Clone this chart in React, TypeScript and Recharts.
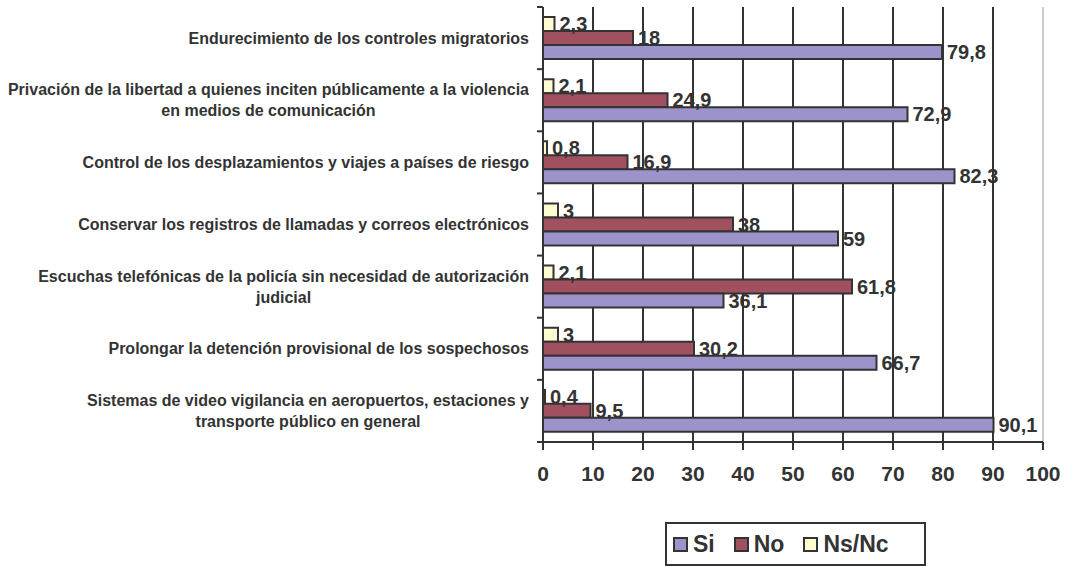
import { BarChart, Bar, XAxis, YAxis, CartesianGrid, ReferenceLine, LabelList } from 'recharts';

const categories = [
  'Endurecimiento de los controles migratorios',
  'Privación de la libertad a quienes inciten públicamente a la violencia\nen medios de comunicación',
  'Control de los desplazamientos y viajes a países de riesgo',
  'Conservar los registros de llamadas y correos electrónicos',
  'Escuchas telefónicas de la policía sin necesidad de autorización\njudicial',
  'Prolongar la detención provisional de los sospechosos',
  'Sistemas de video vigilancia en aeropuertos, estaciones y\ntransporte público en general',
];
const si = [79.8, 72.9, 82.3, 59, 36.1, 66.7, 90.1];
const no = [18, 24.9, 16.9, 38, 61.8, 30.2, 9.5];
const nsnc = [2.3, 2.1, 0.8, 3, 2.1, 3, 0.4];
const xTicks = [0, 10, 20, 30, 40, 50, 60, 70, 80, 90, 100];

const series = [
  { key: 'nsnc', name: 'Ns/Nc', color: '#FFFBD0' },
  { key: 'no', name: 'No', color: '#A0505F' },
  { key: 'si', name: 'Si', color: '#9B93C9' },
];
const legendOrder = ['si', 'no', 'nsnc'];

const data = categories.map((c, i) => ({ cat: c, si: si[i], no: no[i], nsnc: nsnc[i] }));

const W = 1065;
const H = 566;
const TOP = 7;
const BOTTOM = 442;
const LEFT = 543;
const RIGHT = 1043;
const BAND = (BOTTOM - TOP) / categories.length;
const FONT = '"Liberation Sans", Arial, sans-serif';
const INK = '#333333';

function CategoryTick(props: any) {
  const { y, payload, index } = props;
  const lines = String(payload.value).split('\n');
  const blockH = 70;
  return (
    <g>
      <line x1={LEFT - 6} x2={LEFT} y1={y - BAND / 2} y2={y - BAND / 2} stroke={INK} strokeWidth={2} />
      {index === categories.length - 1 && (
        <line x1={LEFT - 6} x2={LEFT} y1={y + BAND / 2} y2={y + BAND / 2} stroke={INK} strokeWidth={2} />
      )}
      <foreignObject x={0} y={y - blockH / 2} width={529} height={blockH}>
        <div
          style={{
            height: blockH,
            display: 'flex',
            justifyContent: 'flex-end',
            alignItems: 'center',
          }}
        >
          <div
            style={{
              textAlign: 'center',
              fontFamily: FONT,
              fontWeight: 'bold',
              fontSize: 16,
              lineHeight: '21px',
              color: INK,
              whiteSpace: 'nowrap',
            }}
          >
            {lines.map((l, i) => (
              <div key={i}>{l}</div>
            ))}
          </div>
        </div>
      </foreignObject>
    </g>
  );
}

const fmt = (v: any) => String(v).replace('.', ',');

export default function App() {
  return (
    <div style={{ position: 'absolute', left: 0, top: 0, width: W, height: H, background: '#fff' }}>
      <BarChart
        width={W}
        height={H}
        data={data}
        layout="vertical"
        margin={{ top: TOP, right: W - RIGHT, left: 0, bottom: H - BOTTOM - 60 }}
        barGap={0}
        barSize={14}
      >
        <CartesianGrid horizontal={false} stroke={INK} strokeWidth={2} />
        <ReferenceLine x={100} stroke="#cccccc" strokeWidth={2} />
        <XAxis
          type="number"
          domain={[0, 100]}
          ticks={xTicks}
          interval={0}
          height={60}
          axisLine={{ stroke: INK, strokeWidth: 2 }}
          tickLine={{ stroke: INK, strokeWidth: 2 }}
          tickSize={8}
          tickMargin={16}
          tick={{ fontSize: 21, fontWeight: 'bold', fill: INK, fontFamily: FONT }}
        />
        <YAxis
          type="category"
          dataKey="cat"
          width={LEFT}
          interval={0}
          axisLine={{ stroke: INK, strokeWidth: 2 }}
          tickLine={false}
          tick={<CategoryTick />}
        />
        {series.map((s) => (
          <Bar
            key={s.key}
            dataKey={s.key}
            name={s.name}
            fill={s.color}
            stroke={INK}
            strokeWidth={2}
            isAnimationActive={false}
          >
            <LabelList
              dataKey={s.key}
              position="right"
              offset={5}
              formatter={fmt}
              style={{ fontSize: 20, fontWeight: 'bold', fill: INK, fontFamily: FONT }}
            />
          </Bar>
        ))}
      </BarChart>
      <div
        style={{
          position: 'absolute',
          left: 665,
          top: 522,
          width: 251,
          height: 40,
          border: `2px solid ${INK}`,
          background: '#fff',
          display: 'flex',
          alignItems: 'center',
          paddingLeft: 6,
          boxSizing: 'content-box',
          fontFamily: FONT,
          fontWeight: 'bold',
          fontSize: 23,
          color: INK,
        }}
      >
        {legendOrder.map((k) => {
          const s = series.find((x) => x.key === k)!;
          return (
            <div key={k} style={{ display: 'flex', alignItems: 'center', marginRight: 19 }}>
              <span
                style={{
                  display: 'inline-block',
                  width: 11,
                  height: 11,
                  border: `2px solid ${INK}`,
                  background: s.color,
                  marginRight: 5,
                }}
              />
              <span>{s.name}</span>
            </div>
          );
        })}
      </div>
    </div>
  );
}
